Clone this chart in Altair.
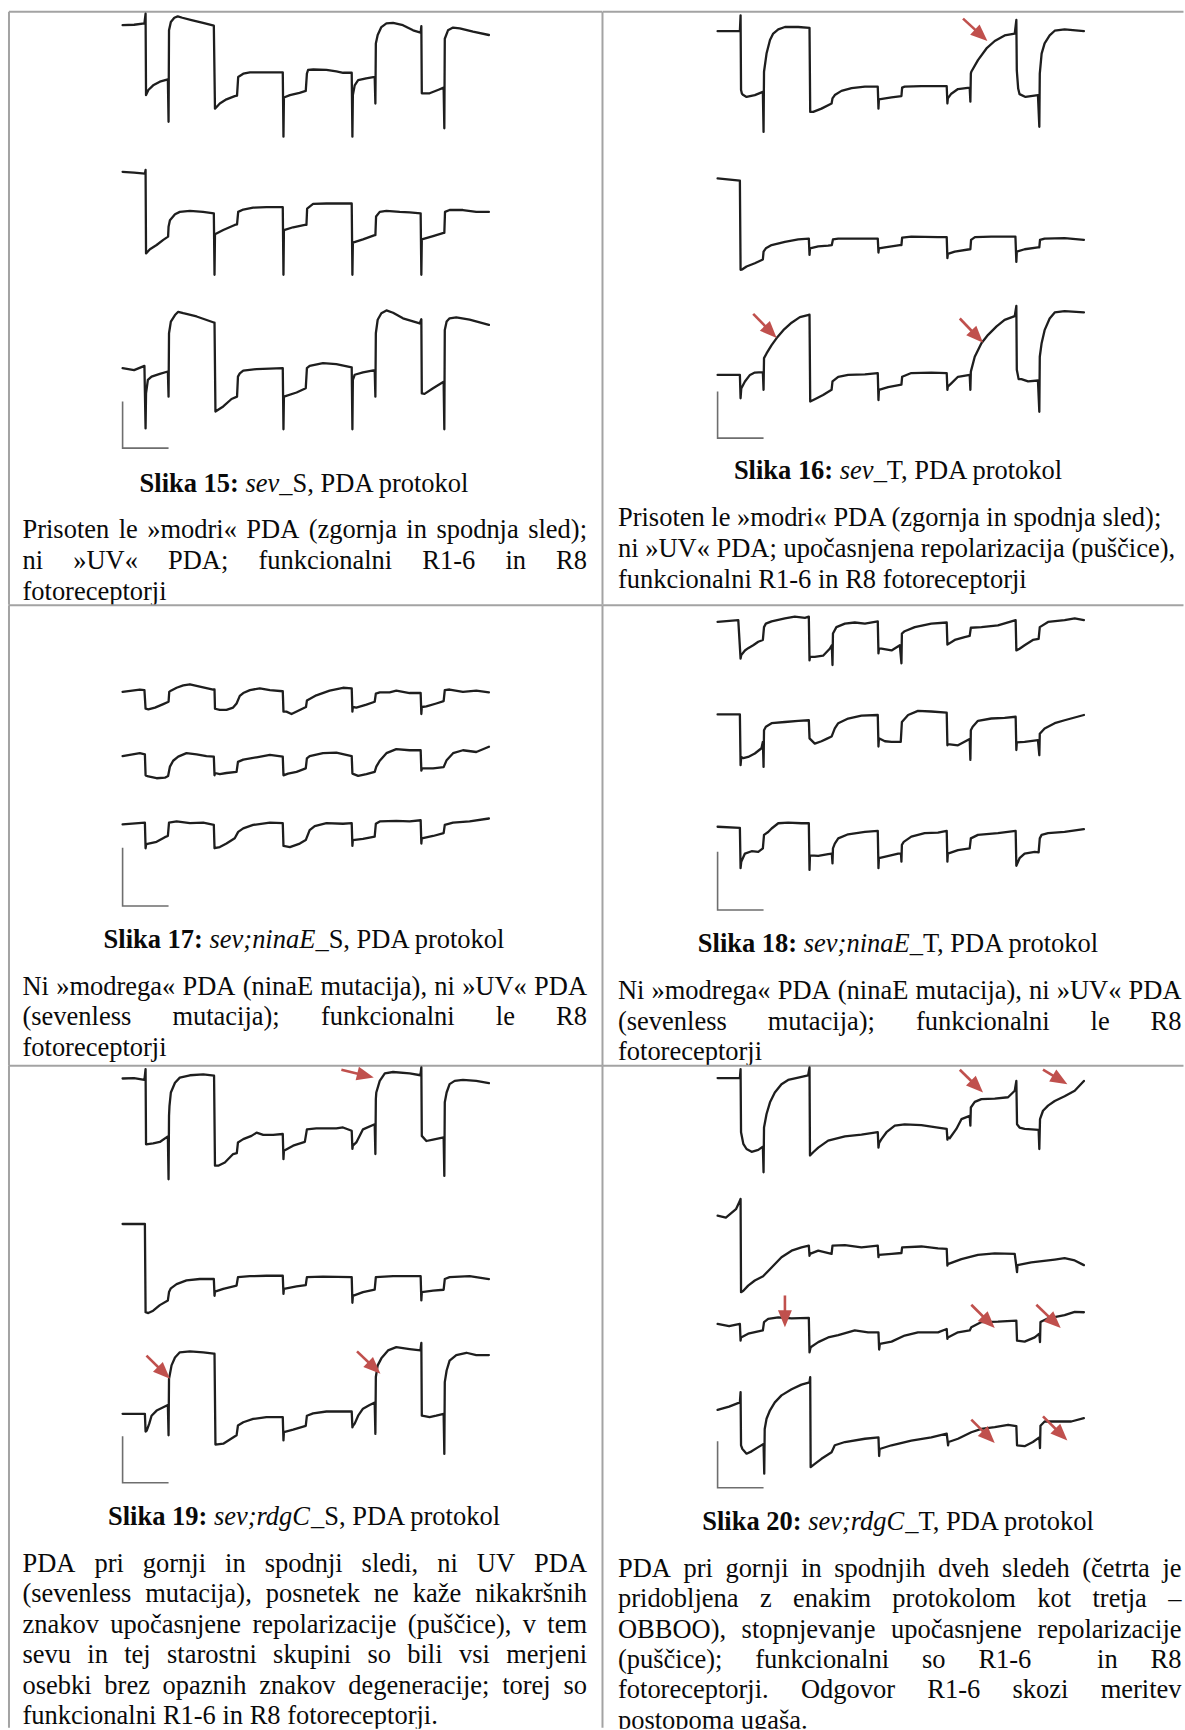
import math
import altair as alt
import pandas as pd

# ---------------------------------------------------------------------------
# Recorded traces, (time [s], potential [mV] relative to the starting level).
# PDA protocol light steps switch at t = 1, 2, 4, 5, 7, 8, 10, 11, 13, 14 s.
# ---------------------------------------------------------------------------
SEV_S_1 = [(0, 0), (0.5, 0.1), (0.95, 0.4), (1.0, 2.5), (1.02, -15.0), (1.12, -13.9), (1.33, -12.9), (1.62, -12.1),
           (1.97, -11.6), (2.0, -20.7), (2.02, -1.1), (2.1, 0.7), (2.25, 1.6), (2.4, 1.9), (2.6, 1.6), (3.0, 1.1),
           (3.5, 0.5), (3.97, -0.1), (4.02, -17.9), (4.23, -16.8), (4.52, -15.9), (4.88, -15.2), (4.98, -15.1),
           (5.03, -11.1), (5.25, -10.4), (5.54, -10.1), (6.12, -10.1), (6.97, -10.1), (7.0, -23.9), (7.02, -15.5),
           (7.28, -15.0), (7.7, -14.5), (7.97, -14.1), (8.02, -10.4), (8.07, -9.6), (8.3, -9.5), (8.87, -9.6),
           (9.3, -9.9), (9.6, -10.2), (9.97, -10.2), (10.0, -23.9), (10.02, -15.0), (10.1, -12.9), (10.25, -11.8),
           (10.6, -11.4), (10.97, -11.1), (11.0, -16.8), (11.02, -3.9), (11.1, -2.1), (11.26, -0.4), (11.48, 0.4),
           (11.77, 0.5), (12.2, 0.0), (12.64, -1.1), (12.97, -1.6), (13.0, -0.2), (13.02, -14.6), (13.36, -14.6),
           (13.72, -13.9), (13.97, -13.4), (14.0, -22.1), (14.02, -2.9), (14.16, -1.1), (14.38, -0.5), (14.67, -0.7),
           (15.25, -1.4), (15.94, -2.1)]
SEV_S_2 = [(0, 0), (0.5, -0.2), (0.97, -0.4), (1.0, 0.4), (1.02, -17.5), (1.19, -16.6), (1.48, -15.7), (1.77, -14.6),
           (1.98, -13.9), (2.0, -11.8), (2.06, -10.4), (2.28, -9.1), (2.49, -8.6), (2.93, -8.4), (3.5, -8.6),
           (3.97, -8.9), (4.0, -22.1), (4.02, -13.4), (4.38, -12.5), (4.88, -11.4), (4.98, -11.3), (5.03, -8.6),
           (5.25, -8.1), (5.68, -7.7), (6.26, -7.6), (6.97, -7.6), (7.0, -22.1), (7.02, -12.5), (7.42, -11.9),
           (7.93, -11.4), (8.0, -11.4), (8.03, -7.9), (8.29, -6.9), (8.87, -6.8), (9.59, -6.8), (9.97, -6.8),
           (10.0, -22.1), (10.02, -15.2), (10.46, -14.5), (10.97, -13.6), (11.0, -13.6), (11.03, -9.6), (11.19, -8.6),
           (11.48, -8.4), (12.06, -8.6), (12.49, -8.7), (12.97, -8.9), (13.0, -22.1), (13.02, -14.5), (13.51, -13.8),
           (13.97, -13.1), (14.0, -13.1), (14.03, -8.6), (14.23, -8.2), (14.81, -8.2), (15.39, -8.6), (15.94, -8.6)]
SEV_S_3 = [(0, 0), (0.5, -0.4), (0.95, 0.5), (1.0, -12.9), (1.02, -5.4), (1.1, -2.5), (1.26, -1.8), (1.62, -1.2),
           (1.97, -0.7), (2.0, -6.1), (2.02, 7.5), (2.1, 10.0), (2.28, 11.4), (2.42, 12.1), (2.64, 11.8), (3.22, 11.1),
           (3.97, 9.8), (4.0, 9.8), (4.04, -9.3), (4.38, -8.2), (4.74, -6.6), (4.98, -6.1), (5.02, -1.8), (5.1, -1.1),
           (5.25, -0.5), (5.83, -0.2), (6.97, 0.0), (7.0, -13.1), (7.02, -6.1), (7.57, -5.2), (7.97, -4.3), (8.02, 0.0),
           (8.14, 0.5), (8.72, 1.1), (9.3, 0.9), (9.97, 0.2), (10.0, -13.1), (10.02, -2.5), (10.1, -1.4), (10.46, -0.9),
           (10.97, -0.4), (11.0, -6.1), (11.02, 7.5), (11.1, 10.4), (11.26, 11.8), (11.48, 12.4), (11.77, 11.9),
           (12.2, 10.7), (12.93, 9.6), (13.0, 10.5), (13.02, -5.4), (13.14, -5.5), (13.51, -4.3), (13.97, -2.9),
           (14.0, -13.1), (14.02, 8.2), (14.1, 10.0), (14.23, 10.7), (14.52, 10.9), (15.1, 10.4), (15.94, 9.3)]

SEV_T_1 = [(0, 0), (0.97, 0.0), (1.0, 3.4), (1.02, -12.6), (1.06, -13.4), (1.12, -13.7), (1.26, -14.1), (1.62, -13.7),
           (1.97, -13.0), (2.0, -21.6), (2.02, -8.7), (2.13, -4.8), (2.28, -1.9), (2.42, -0.5), (2.64, 0.4), (2.93, 0.9),
           (3.51, 0.9), (4.0, 0.7), (4.03, -17.3), (4.16, -17.3), (4.52, -16.6), (4.96, -15.5), (5.0, -14.4),
           (5.1, -13.7), (5.39, -12.8), (5.83, -12.2), (6.41, -11.9), (6.97, -11.9), (7.0, -16.6), (7.02, -14.6),
           (7.57, -14.2), (8.0, -13.9), (8.03, -12.1), (8.14, -11.9), (8.87, -11.8), (9.59, -11.8), (9.97, -11.8),
           (10.0, -15.5), (10.02, -14.4), (10.17, -13.4), (10.46, -12.4), (10.97, -12.1), (11.0, -15.1), (11.02, -9.1),
           (11.04, -8.7), (11.33, -6.2), (11.7, -3.7), (12.06, -2.1), (12.49, -0.9), (12.93, -0.5), (13.0, 2.4),
           (13.02, -8.4), (13.08, -12.3), (13.14, -13.5), (13.4, -14.1), (13.94, -13.7), (14.0, -20.5), (14.02, -9.1),
           (14.1, -4.8), (14.23, -2.6), (14.45, -0.9), (14.67, 0.1), (15.1, 0.4), (15.94, 0.0)]
SEV_T_2 = [(0, 0), (0.97, -0.5), (1.0, -19.6), (1.08, -19.5), (1.26, -18.9), (1.62, -18.2), (1.97, -17.4), (2.0, -15.7),
           (2.1, -15.0), (2.35, -14.3), (2.93, -13.6), (3.51, -13.1), (3.97, -12.9), (4.0, -16.4), (4.02, -15.0),
           (4.38, -14.6), (4.81, -14.4), (4.97, -14.3), (5.02, -13.1), (5.25, -12.9), (6.12, -12.9), (6.97, -12.9),
           (7.0, -15.9), (7.02, -15.0), (7.28, -14.8), (7.93, -14.3), (8.0, -14.3), (8.03, -12.7), (8.43, -12.5),
           (9.59, -12.6), (9.97, -12.6), (10.0, -17.1), (10.02, -16.2), (10.32, -15.7), (10.97, -15.2), (11.0, -15.2),
           (11.03, -13.2), (11.2, -12.6), (11.91, -12.5), (12.96, -12.5), (13.0, -17.9), (13.02, -15.7), (13.36, -15.2),
           (13.94, -14.8), (14.0, -14.8), (14.03, -13.2), (14.23, -12.9), (15.1, -12.8), (15.94, -13.2)]
SEV_T_3 = [(0, 0), (0.97, 0.0), (1.0, -5.0), (1.03, -2.9), (1.19, -1.4), (1.41, 0.0), (1.62, 0.5), (1.97, 0.6),
           (2.0, -3.2), (2.02, 3.6), (2.13, 4.6), (2.35, 6.4), (2.57, 7.9), (2.86, 9.6), (3.22, 11.2), (3.58, 12.4),
           (3.97, 12.9), (4.0, 12.9), (4.03, -5.7), (4.23, -5.2), (4.59, -4.3), (4.96, -3.2), (5.0, -1.4), (5.25, -0.4),
           (5.68, 0.0), (6.41, 0.1), (6.97, 0.4), (7.0, -5.4), (7.02, -3.2), (7.42, -2.6), (8.0, -2.1), (8.03, -0.4),
           (8.43, 0.4), (9.3, 0.5), (9.97, 0.4), (10.0, -3.2), (10.02, -2.5), (10.17, -1.8), (10.46, -0.4),
           (10.97, 0.0), (11.0, -3.2), (11.02, 0.7), (11.19, 3.9), (11.48, 6.8), (11.77, 8.6), (12.14, 10.4),
           (12.49, 11.8), (12.93, 12.6), (13.0, 14.8), (13.02, 1.1), (13.1, -0.9), (13.22, -0.9), (13.51, -1.4),
           (13.94, -1.2), (14.0, -7.9), (14.02, 3.9), (14.1, 6.8), (14.23, 9.6), (14.45, 12.1), (14.67, 13.4),
           (15.1, 13.7), (15.94, 13.4)]

NINAE_S_1 = [(0, 0), (0.75, 0.4), (0.95, 0.3), (1.0, -2.9), (1.12, -3.0), (1.41, -2.7), (1.77, -2.1), (2.0, -1.7),
             (2.03, 0.0), (2.1, 0.2), (2.35, 0.7), (2.64, 1.1), (2.93, 1.3), (3.36, 0.9), (3.94, 0.4), (4.0, 0.4),
             (4.02, -2.9), (4.23, -3.1), (4.52, -3.1), (4.81, -2.7), (4.96, -2.0), (5.1, -0.7), (5.25, -0.2),
             (5.54, 0.3), (5.97, 0.6), (6.41, 0.3), (6.97, 0.1), (7.0, -3.4), (7.13, -3.4), (7.35, -3.8), (7.71, -3.1),
             (7.98, -2.6), (8.02, -1.5), (8.43, -0.6), (9.01, 0.2), (9.59, 0.7), (9.97, 0.6), (10.0, -3.4),
             (10.02, -2.6), (10.17, -2.7), (10.61, -2.2), (10.97, -1.7), (11.02, -0.3), (11.19, -0.1), (11.62, -0.1),
             (11.91, 0.2), (12.49, -0.2), (12.97, -0.2), (13.0, -3.8), (13.02, -2.6), (13.22, -2.5), (13.65, -2.0),
             (13.97, -1.6), (14.02, 0.3), (14.23, 0.4), (14.81, 0.0), (15.39, 0.2), (15.94, -0.1)]
NINAE_S_2 = [(0, 0), (0.75, 0.5), (0.97, 0.3), (1.0, -3.3), (1.12, -3.5), (1.48, -3.8), (1.84, -3.7), (1.98, -3.4),
             (2.06, -1.8), (2.2, -0.8), (2.42, -0.1), (2.78, 0.5), (3.22, 0.3), (3.65, 0.0), (3.97, -0.1), (4.0, -3.3),
             (4.02, -2.9), (4.23, -3.1), (4.52, -2.9), (4.96, -2.7), (5.02, -1.0), (5.25, -0.6), (5.83, -0.2),
             (6.41, 0.2), (6.97, -0.1), (7.0, -3.3), (7.2, -3.0), (7.57, -2.7), (7.97, -2.1), (8.02, -0.4), (8.14, 0.0),
             (8.72, 0.5), (9.3, 0.6), (9.97, 0.0), (10.0, -3.0), (10.25, -3.4), (10.61, -3.1), (10.97, -2.7),
             (11.04, -1.8), (11.19, -0.8), (11.48, 0.5), (11.91, 1.2), (12.49, 1.0), (12.97, 1.0), (13.0, -2.5),
             (13.03, -2.1), (13.51, -2.1), (13.97, -1.9), (14.1, -0.7), (14.38, 0.5), (14.81, 1.0), (15.39, 0.7),
             (15.94, 1.6)]
NINAE_S_3 = [(0, 0), (0.97, 0.3), (1.0, -4.1), (1.03, -3.4), (1.48, -3.0), (1.84, -2.2), (1.97, -2.0), (2.02, 0.3),
             (2.35, 0.5), (2.93, 0.2), (3.51, 0.3), (3.97, -0.1), (4.0, -4.1), (4.23, -3.9), (4.52, -3.3),
             (4.88, -2.4), (5.03, -1.3), (5.25, -0.7), (5.68, -0.1), (6.41, 0.3), (6.97, 0.2), (7.0, -3.7),
             (7.28, -3.9), (7.71, -3.3), (7.97, -2.7), (8.14, -1.0), (8.36, -0.3), (8.87, 0.2), (9.59, 0.1),
             (9.97, 0.2), (10.0, -3.7), (10.02, -2.7), (10.46, -2.5), (10.97, -2.1), (11.02, 0.1), (11.19, 0.5),
             (11.91, 0.6), (12.49, 0.5), (12.97, 0.7), (13.0, -3.3), (13.02, -2.4), (13.51, -2.0), (13.97, -1.5),
             (14.02, -0.1), (14.38, 0.3), (15.1, 0.5), (15.94, 1.0)]

NINAE_T_1 = [(0, 0), (0.9, 0.3), (1.0, -6.3), (1.03, -5.7), (1.19, -4.9), (1.33, -4.5), (1.55, -4.0), (1.77, -3.4),
             (1.97, -3.1), (2.02, -0.9), (2.1, -0.3), (2.35, 0.1), (2.93, 0.6), (3.36, 0.9), (3.8, 0.7), (3.97, 0.9),
             (4.0, -6.6), (4.02, -6.0), (4.23, -6.0), (4.59, -5.8), (4.88, -4.6), (4.97, -4.0), (5.0, -7.4),
             (5.02, -2.0), (5.17, -0.9), (5.54, -0.3), (5.97, -0.1), (6.41, -0.3), (6.97, 0.1), (7.0, -5.4),
             (7.02, -4.6), (7.13, -4.6), (7.57, -4.9), (7.93, -4.0), (8.0, -7.1), (8.02, -2.0), (8.14, -1.6),
             (8.58, -0.9), (9.3, -0.3), (9.97, -0.1), (10.0, -3.9), (10.32, -3.1), (10.75, -2.6), (10.97, -2.4),
             (11.02, -1.0), (11.48, -0.9), (12.2, -0.6), (12.97, 0.3), (13.0, -4.9), (13.14, -4.6), (13.36, -4.0),
             (13.72, -3.1), (13.97, -2.9), (14.02, -0.9), (14.38, 0.0), (15.1, 0.3), (15.54, 0.6), (15.94, 0.3)]
NINAE_T_2 = [(0, 0), (0.97, 0.0), (1.0, -8.7), (1.03, -7.3), (1.12, -7.5), (1.33, -7.3), (1.62, -6.7), (1.91, -5.8),
             (1.97, -4.7), (2.0, -9.0), (2.02, -2.7), (2.1, -2.1), (2.35, -1.5), (2.93, -1.3), (3.51, -1.1),
             (3.97, -1.0), (4.0, -4.1), (4.23, -5.0), (4.52, -4.6), (4.74, -4.2), (4.96, -3.8), (5.1, -2.4),
             (5.25, -1.5), (5.68, -0.7), (6.26, -0.2), (6.97, -0.1), (7.0, -5.5), (7.02, -4.1), (7.28, -4.6),
             (7.57, -4.7), (7.97, -4.7), (8.02, -1.3), (8.29, -0.1), (8.72, 0.6), (9.3, 0.5), (9.97, 0.3),
             (10.0, -5.3), (10.02, -5.1), (10.46, -5.3), (10.97, -4.2), (11.0, -7.8), (11.02, -2.7), (11.1, -2.1),
             (11.33, -1.1), (11.91, -0.7), (12.49, -0.6), (12.97, -0.4), (13.0, -6.1), (13.02, -4.8), (13.36, -4.7),
             (13.94, -4.4), (14.0, -7.0), (14.02, -3.3), (14.23, -2.4), (14.67, -1.5), (15.1, -1.0), (15.94, -0.1)]
NINAE_T_3 = [(0, 0), (0.97, -0.2), (1.0, -7.1), (1.03, -6.0), (1.19, -4.6), (1.48, -4.2), (1.77, -4.3), (1.97, -3.7),
             (2.02, -1.4), (2.2, -0.9), (2.35, -0.3), (2.64, 0.6), (3.07, 0.7), (3.65, 0.6), (3.97, 0.6), (4.0, -7.4),
             (4.02, -4.9), (4.38, -5.0), (4.81, -4.7), (4.97, -4.6), (5.0, -6.3), (5.02, -3.7), (5.1, -2.9),
             (5.25, -2.0), (5.68, -1.3), (6.41, -0.9), (6.97, -0.7), (7.0, -7.1), (7.02, -5.4), (7.35, -5.1),
             (7.86, -4.6), (7.98, -4.6), (8.0, -6.0), (8.02, -3.1), (8.1, -2.6), (8.43, -1.7), (9.01, -1.1),
             (9.59, -1.0), (9.97, -0.7), (10.0, -6.0), (10.02, -4.6), (10.46, -4.0), (10.97, -3.7), (11.02, -2.0),
             (11.33, -1.4), (12.2, -1.1), (12.97, -0.7), (13.0, -6.7), (13.14, -5.4), (13.36, -4.6), (13.8, -4.3),
             (13.97, -4.4), (14.02, -2.0), (14.1, -1.4), (14.38, -1.1), (15.1, -0.9), (15.94, -0.4)]

RDGC_S_1 = [(0, 0), (0.5, 0.1), (0.95, -0.3), (1.0, 2.0), (1.02, -14.1), (1.33, -13.9), (1.62, -13.6), (1.97, -12.4),
            (2.0, -21.6), (2.02, -8.0), (2.04, -5.9), (2.1, -3.0), (2.28, -0.9), (2.49, 0.2), (2.93, 0.7), (3.51, 0.9),
            (3.98, 0.6), (4.02, -18.7), (4.16, -18.7), (4.45, -18.0), (4.81, -16.2), (4.97, -16.0), (5.02, -13.7),
            (5.25, -13.0), (5.61, -12.3), (5.83, -11.6), (6.12, -12.1), (6.55, -12.1), (6.97, -11.9), (7.0, -17.3),
            (7.02, -15.5), (7.42, -14.4), (7.93, -13.6), (8.02, -10.9), (8.43, -10.7), (9.3, -10.7), (9.59, -10.5),
            (9.97, -11.2), (10.0, -15.1), (10.02, -14.4), (10.17, -13.7), (10.46, -10.9), (10.97, -9.8),
            (11.0, -16.2), (11.02, -4.4), (11.04, -3.0), (11.19, -0.5), (11.41, 1.1), (11.77, 1.4), (12.49, 1.1),
            (12.96, 0.7), (13.0, 2.4), (13.02, -12.3), (13.22, -13.4), (13.51, -13.1), (13.97, -12.6), (14.0, -20.9),
            (14.02, -5.1), (14.1, -3.0), (14.23, -1.2), (14.45, -0.5), (14.81, -0.3), (15.39, -0.5), (15.94, -1.0)]
RDGC_S_2 = [(0, 0), (0.97, 0.0), (1.0, -18.9), (1.12, -19.1), (1.33, -18.6), (1.62, -17.4), (1.97, -16.4),
            (2.02, -14.6), (2.1, -13.8), (2.35, -12.9), (2.78, -12.1), (3.36, -11.8), (3.97, -11.8), (4.0, -15.4),
            (4.02, -14.5), (4.38, -13.9), (4.96, -13.2), (5.02, -11.4), (5.54, -11.2), (6.26, -11.1), (6.97, -11.1),
            (7.0, -15.0), (7.02, -13.9), (7.57, -13.4), (7.97, -13.1), (8.02, -11.4), (8.72, -11.3), (9.97, -11.4),
            (10.0, -16.9), (10.02, -15.4), (10.46, -14.6), (10.97, -14.1), (11.02, -11.4), (11.77, -11.2),
            (12.97, -11.2), (13.0, -16.4), (13.02, -14.6), (13.51, -14.3), (13.97, -14.1), (14.02, -11.8),
            (14.23, -11.4), (15.1, -11.2), (15.94, -11.8)]
RDGC_S_3 = [(0, 0), (0.97, 0.0), (1.0, -3.8), (1.05, -3.6), (1.16, -2.1), (1.26, -0.4), (1.48, 0.7), (1.77, 1.4),
            (1.97, 1.9), (2.0, -4.6), (2.02, 7.5), (2.13, 10.4), (2.28, 12.1), (2.49, 13.2), (2.93, 13.4), (3.51, 13.2),
            (3.97, 12.9), (4.0, 12.9), (4.04, -6.6), (4.38, -6.4), (4.67, -5.5), (4.96, -4.6), (5.02, -2.5),
            (5.25, -1.8), (5.68, -1.1), (6.26, -0.7), (6.97, -0.7), (7.0, -5.7), (7.02, -3.9), (7.42, -3.4),
            (7.97, -2.6), (8.02, -0.4), (8.29, 0.1), (8.87, 0.5), (9.97, 0.5), (10.0, -2.9), (10.02, -2.6),
            (10.1, -2.1), (10.25, -0.4), (10.46, 1.1), (10.75, 1.9), (10.97, 2.4), (11.0, -4.3), (11.02, 7.9),
            (11.1, 10.4), (11.26, 11.9), (11.55, 13.6), (11.91, 14.3), (12.49, 13.9), (12.96, 13.6), (13.0, 15.2),
            (13.02, -0.4), (13.14, -0.5), (13.36, -0.7), (13.65, -0.4), (13.97, 0.0), (14.0, -8.6), (14.02, 6.8),
            (14.1, 9.3), (14.23, 11.4), (14.52, 12.6), (14.96, 13.1), (15.39, 12.6), (15.94, 12.6)]

RDGC_T_1 = [(0, 0), (0.97, 0.0), (1.0, 1.9), (1.02, -11.6), (1.12, -14.1), (1.26, -15.2), (1.48, -15.8), (1.77, -15.4),
            (1.97, -14.7), (2.0, -20.2), (2.02, -10.6), (2.13, -7.7), (2.28, -5.2), (2.49, -3.1), (2.78, -1.3),
            (3.07, -0.4), (3.51, 0.1), (3.94, 0.6), (4.0, 2.3), (4.02, -16.6), (4.16, -15.9), (4.38, -14.9),
            (4.81, -13.4), (5.54, -12.5), (6.26, -12.1), (6.97, -11.6), (7.0, -14.9), (7.03, -13.9), (7.13, -13.1),
            (7.35, -11.6), (7.71, -10.2), (8.14, -9.9), (8.87, -10.1), (9.59, -10.6), (9.97, -10.9), (10.0, -13.2),
            (10.02, -12.7), (10.1, -12.9), (10.39, -10.9), (10.61, -8.8), (10.97, -8.1), (11.0, -10.2), (11.02, -6.3),
            (11.19, -5.1), (11.48, -4.5), (12.06, -4.4), (12.64, -4.1), (12.93, -2.7), (13.0, -0.6), (13.03, -9.9),
            (13.14, -10.6), (13.36, -10.9), (13.97, -11.1), (14.0, -15.2), (14.03, -8.8), (14.16, -7.0),
            (14.38, -5.9), (14.67, -4.9), (15.1, -3.9), (15.54, -2.7), (15.94, -0.6)]
RDGC_T_2 = [(0, 0), (0.36, -0.4), (0.8, 1.4), (0.97, 3.2), (1.0, 3.6), (1.02, -16.4), (1.12, -16.1), (1.33, -15.0),
            (1.62, -13.9), (1.98, -13.0), (2.35, -11.1), (2.78, -8.9), (3.22, -7.5), (3.65, -6.8), (3.97, -6.4),
            (4.0, -8.6), (4.02, -8.2), (4.38, -7.5), (4.96, -8.2), (5.0, -6.4), (5.54, -6.3), (6.26, -6.8),
            (6.97, -6.4), (7.0, -8.9), (7.02, -8.4), (7.57, -8.2), (8.0, -8.0), (8.03, -6.8), (8.87, -6.6),
            (9.59, -7.0), (9.97, -7.1), (10.0, -10.7), (10.02, -10.4), (10.61, -9.3), (11.33, -8.4), (12.06, -8.1),
            (12.93, -8.2), (13.03, -12.1), (13.05, -10.6), (13.65, -10.0), (14.67, -9.4), (15.1, -9.1),
            (15.54, -9.6), (15.94, -10.6)]
RDGC_T_3 = [(0, 0), (0.5, -0.5), (0.97, 0.0), (1.0, -3.6), (1.02, -2.9), (1.33, -2.1), (1.77, -1.6), (1.97, -1.4),
            (2.02, 0.4), (2.2, 1.1), (2.64, 1.4), (3.22, 1.2), (3.97, 1.3), (4.0, -6.1), (4.05, -5.0), (4.38, -3.9),
            (4.81, -2.9), (5.25, -2.4), (5.97, -1.4), (6.55, -1.8), (7.0, -1.8), (7.03, -5.5), (7.06, -4.3),
            (7.57, -3.8), (8.14, -2.5), (8.72, -1.8), (9.59, -1.8), (9.97, -1.1), (10.0, -3.2), (10.02, -2.9),
            (10.46, -1.8), (10.97, -1.4), (11.04, -0.7), (11.48, 0.4), (12.2, 0.5), (13.0, 0.7), (13.03, -3.6),
            (13.36, -3.8), (13.8, -2.9), (14.0, -2.1), (14.03, -3.9), (14.05, 0.4), (14.38, 1.2), (15.1, 1.9),
            (15.54, 2.6), (15.94, 2.5)]
RDGC_T_4 = [(0, 0), (0.5, 0.7), (0.97, 1.6), (1.0, 3.8), (1.02, -7.6), (1.08, -8.4), (1.26, -9.4), (1.48, -8.9),
            (1.77, -8.0), (2.0, -7.3), (2.03, -13.7), (2.05, -4.1), (2.13, -1.9), (2.28, -0.1), (2.49, 1.6),
            (2.78, 3.1), (3.22, 4.4), (3.65, 5.4), (4.0, 5.9), (4.03, 7.0), (4.05, -12.3), (4.23, -11.6),
            (4.52, -10.5), (4.96, -9.1), (5.1, -7.6), (5.54, -6.9), (6.41, -6.2), (7.0, -5.9), (7.03, -9.9),
            (7.05, -8.4), (7.57, -7.6), (8.43, -6.6), (9.3, -5.9), (9.97, -5.1), (10.03, -7.6), (10.05, -6.9),
            (10.46, -6.2), (11.04, -4.8), (11.48, -4.1), (12.06, -3.7), (12.64, -3.2), (13.0, -3.5), (13.03, -7.6),
            (13.36, -7.8), (13.72, -6.9), (14.0, -5.9), (14.03, -8.2), (14.05, -3.4), (14.23, -2.5), (14.81, -2.5),
            (15.39, -2.5), (15.94, -1.8)]

# Calibration bar: 2 s by 10 mV
SCALE_BAR = [(0, 10), (0, 0), (2, 0)]

# Arrows marking slowed repolarisation: (trace index, t tail, V tail, t tip, V tip)
ARROWS_SEV_T = [(0, 10.68, 2.7, 11.74, -2.1), (2, 1.55, 13.1, 2.57, 7.9), (2, 10.54, 12.1, 11.55, 6.9)]
ARROWS_RDGC_S = [(0, 9.52, 1.9, 10.93, 0.2), (2, 1.04, 12.5, 2.06, 7.5), (2, 10.2, 13.4, 11.22, 8.6)]
ARROWS_RDGC_T = [(0, 10.54, 1.8, 11.55, -3.1), (0, 14.16, 1.8, 15.22, -1.3), (2, 2.93, 6.1, 2.93, -0.7),
                 (2, 11.04, 4.1, 12.06, -0.9), (2, 13.87, 4.1, 14.93, -0.9), (3, 11.04, -2.1, 12.06, -7.1),
                 (3, 14.16, -1.4, 15.22, -6.6)]

# Figure captions: (bold part, italic part, roman part)
CAPTIONS = [
    ("Slika 15: ", "sev", "_S, PDA protokol"),
    ("Slika 16: ", "sev", "_T, PDA protokol"),
    ("Slika 17: ", "sev;ninaE", "_S, PDA protokol"),
    ("Slika 18: ", "sev;ninaE", "_T, PDA protokol"),
    ("Slika 19: ", "sev;rdgC", "_S, PDA protokol"),
    ("Slika 20: ", "sev;rdgC", "_T, PDA protokol"),
]

# Descriptions, one entry per printed line
DESC_15 = ["Prisoten le »modri« PDA (zgornja in spodnja sled);",
           "ni »UV« PDA; funkcionalni R1-6 in R8",
           "fotoreceptorji"]
DESC_16 = ["Prisoten le »modri« PDA (zgornja in spodnja sled);",
           "ni »UV« PDA; upočasnjena repolarizacija (puščice),",
           "funkcionalni R1-6 in R8 fotoreceptorji"]
DESC_17 = ["Ni »modrega« PDA (ninaE mutacija), ni »UV« PDA",
           "(sevenless mutacija); funkcionalni le R8",
           "fotoreceptorji"]
DESC_18 = list(DESC_17)
DESC_19 = ["PDA pri gornji in spodnji sledi, ni UV PDA",
           "(sevenless mutacija), posnetek ne kaže nikakršnih",
           "znakov upočasnjene repolarizacije (puščice), v tem",
           "sevu in tej starostni skupini so bili vsi merjeni",
           "osebki brez opaznih znakov degeneracije; torej so",
           "funkcionalni R1-6 in R8 fotoreceptorji."]
DESC_20 = ["PDA pri gornji in spodnjih dveh sledeh (četrta je",
           "pridobljena z enakim protokolom kot tretja –",
           "OBBOO), stopnjevanje upočasnjene repolarizacije",
           "(puščice); funkcionalni so R1-6  in R8",
           "fotoreceptorji. Odgovor R1-6 skozi meritev",
           "postopoma ugaša."]

# ---------------------------------------------------------------------------
# Styling and layout
# ---------------------------------------------------------------------------
FONT = "Liberation Serif"
FS = 26.5
INK = "#1e1e1e"
TEXT = "#0a0a0a"
RED = "#c0504d"
GRID = "#a3a3a3"
BAR = "#6e6e6e"
PX_PER_S = 23.0

COL_W = [593.5, 582.5]
ROW_H = [593.5, 461.0, 663.5]
T0_X = [113.7, 115.2]
TEXT_L = [13.5, 15.5]
TEXT_R = [578.5, 579.5]

# Times-compatible advance widths (1/1000 em) used for justification
ROMAN = dict(zip(" !\"#$%&'()*+,-./0123456789:;<=>?@",
                 [250, 333, 408, 500, 500, 833, 778, 180, 333, 333, 500, 564, 250, 333, 250, 278] + [500] * 10 +
                 [278, 278, 564, 564, 564, 444, 921]))
ROMAN.update(dict(zip("ABCDEFGHIJKLMNOPQRSTUVWXYZ",
                      [722, 667, 667, 722, 611, 556, 722, 722, 333, 389, 722, 611, 889, 722, 722, 556, 722, 667, 556,
                       611, 722, 722, 944, 722, 722, 611])))
ROMAN.update(dict(zip("abcdefghijklmnopqrstuvwxyz",
                      [444, 500, 444, 500, 444, 333, 500, 500, 278, 278, 500, 278, 778, 500, 500, 500, 500, 333, 389,
                       278, 500, 500, 722, 500, 500, 444])))
ROMAN.update({"«": 500, "»": 500, "–": 500, "č": 444, "š": 389, "ž": 444, "_": 500})
BOLD = {"S": 556, "l": 278, "i": 278, "k": 556, "a": 500, " ": 250, ":": 333}
BOLD.update({d: 500 for d in "0123456789"})
ITALIC = {"s": 389, "e": 444, "v": 444, ";": 333, "n": 500, "i": 278, "a": 500, "E": 611, "r": 389, "d": 500,
          "g": 500, "C": 667}


def text_width(s, table):
    return sum(table.get(ch, 500) for ch in s) * FS / 1000.0


def paragraph(lines, col, y0, lead, justify):
    left, right = TEXT_L[col], TEXT_R[col]
    lrows, rrows = [], []
    for k, line in enumerate(lines):
        y = y0 + k * lead
        tokens = line.split(" ")
        if not justify or k == len(lines) - 1 or len(tokens) == 1:
            lrows.append({"txt": line, "x": left, "y": y})
            continue
        widths = [text_width(w, ROMAN) for w in tokens]
        gap = (right - left - sum(widths)) / (len(tokens) - 1)
        x = left
        for j, (w, wd) in enumerate(zip(tokens, widths)):
            if w:
                if j == len(tokens) - 1:
                    rrows.append({"txt": w, "x": right, "y": y})
                else:
                    lrows.append({"txt": w, "x": x, "y": y})
            x += wd + gap
    return lrows, rrows


def text_layer(rows, clip, **style):
    return alt.Chart(pd.DataFrame(rows)).mark_text(
        font=FONT, fontSize=FS, baseline="alphabetic", color=TEXT, clip=clip, **style
    ).encode(
        x=alt.X("x:Q", scale=None, axis=None),
        y=alt.Y("y:Q", scale=None, axis=None),
        text="txt:N",
    )


def panel(col, row, gain, traces, offsets, bar_off, arrows, caption, cap_y, desc, desc_y, lead, justify):
    w, h = COL_W[col], ROW_H[row]
    xs = alt.Scale(domain=[-T0_X[col] / PX_PER_S, (w - T0_X[col]) / PX_PER_S], nice=False, zero=False)
    ys = alt.Scale(domain=[-h / gain, 0], nice=False, zero=False)

    # grid lines of the table (top and left edge of this cell)
    top = alt.Chart(pd.DataFrame({"k": [0]})).mark_rule(color=GRID, strokeWidth=2).encode(
        x=alt.value(0), x2=alt.value(w - (1 if col == 1 else 0)), y=alt.value(0))
    side = alt.Chart(pd.DataFrame({"k": [0]})).mark_rule(color=GRID, strokeWidth=2).encode(
        x=alt.value(0), y=alt.value(0), y2=alt.value(h - (1 if row == 2 else 0)))

    rows = []
    for k, (tr, off) in enumerate(zip(traces, offsets)):
        for i, (t, v) in enumerate(tr):
            rows.append({"trace": k, "i": i, "t": t, "mv": v - off / gain})
    lines = alt.Chart(pd.DataFrame(rows)).mark_line(
        color=INK, strokeWidth=2.3, strokeJoin="round", strokeCap="round"
    ).encode(
        x=alt.X("t:Q", scale=xs, axis=None),
        y=alt.Y("mv:Q", scale=ys, axis=None),
        detail="trace:N",
        order="i:Q",
    )

    bar_df = pd.DataFrame([{"i": i, "t": t, "mv": v - bar_off / gain} for i, (t, v) in enumerate(SCALE_BAR)])
    bar = alt.Chart(bar_df).mark_line(color=BAR, strokeWidth=1.6).encode(
        x=alt.X("t:Q", scale=xs, axis=None),
        y=alt.Y("mv:Q", scale=ys, axis=None),
        order="i:Q",
    )

    layers = [top, side, lines, bar]

    if arrows:
        arows = []
        for k, ts, vs, tt, vt in arrows:
            off = offsets[k] / gain
            dx = (tt - ts) * PX_PER_S
            dy = -(vt - vs) * gain
            length = math.hypot(dx, dy)
            back = 9.0
            arows.append({
                "t1": ts, "v1": vs - off,
                "t2": tt - dx / length * back / PX_PER_S, "v2": vt + dy / length * back / gain - off,
                "tt": tt, "vt": vt - off,
                "ang": math.degrees(math.atan2(dx, -dy)) % 360,
            })
        adf = pd.DataFrame(arows)
        shaft = alt.Chart(adf).mark_rule(color=RED, strokeWidth=2.6).encode(
            x=alt.X("t1:Q", scale=xs, axis=None), y=alt.Y("v1:Q", scale=ys, axis=None),
            x2="t2:Q", y2="v2:Q")
        head = alt.Chart(adf).mark_point(
            shape="M0,0L0.82,2L-0.82,2Z", filled=True, size=289, color=RED, opacity=1, strokeWidth=0
        ).encode(
            x=alt.X("tt:Q", scale=xs, axis=None), y=alt.Y("vt:Q", scale=ys, axis=None),
            angle=alt.Angle("ang:Q", scale=None))
        layers += [shaft, head]

    clip = row == 2
    bold, ital, reg = caption
    wb, wi, wr = text_width(bold, BOLD), text_width(ital, ITALIC), text_width(reg, ROMAN)
    cx = (TEXT_L[col] + TEXT_R[col]) / 2
    x0 = cx - (wb + wi + wr) / 2
    layers.append(text_layer([{"txt": bold, "x": x0, "y": cap_y}], clip, align="left", fontWeight="bold"))
    layers.append(text_layer([{"txt": ital, "x": x0 + wb, "y": cap_y}], clip, align="left", fontStyle="italic"))
    left_rows, right_rows = paragraph(desc, col, desc_y, lead, justify)
    left_rows.append({"txt": reg, "x": x0 + wb + wi, "y": cap_y})
    layers.append(text_layer(left_rows, clip, align="left"))
    if right_rows:
        layers.append(text_layer(right_rows, clip, align="right"))

    return alt.layer(*layers).properties(width=w, height=h)


GAIN = 14.0 / 3.0        # px per mV
GAIN_NINAE = 17.5 / 3.0  # px per mV for the ninaE recordings

cells = [
    panel(0, 0, GAIN, [SEV_S_1, SEV_S_2, SEV_S_3], [13.5, 160.2, 356.8], 436.8, None,
          CAPTIONS[0], 480.6, DESC_15, 526.8, 31.0, True),
    panel(1, 0, GAIN, [SEV_T_1, SEV_T_2, SEV_T_3], [19.5, 166.8, 363.5], 426.8, ARROWS_SEV_T,
          CAPTIONS[1], 467.6, DESC_16, 515.2, 30.7, False),
    panel(0, 1, GAIN_NINAE, [NINAE_S_1, NINAE_S_2, NINAE_S_3], [86.7, 151.0, 219.3], 301.0, None,
          CAPTIONS[2], 343.1, DESC_17, 390.2, 30.4, True),
    panel(1, 1, GAIN_NINAE, [NINAE_T_1, NINAE_T_2, NINAE_T_3], [16.7, 109.3, 221.7], 305.0, None,
          CAPTIONS[3], 347.1, DESC_18, 394.1, 30.7, True),
    panel(0, 2, GAIN, [RDGC_S_1, RDGC_S_2, RDGC_S_3], [12.7, 158.3, 348.3], 417.3, ARROWS_RDGC_S,
          CAPTIONS[4], 459.2, DESC_19, 506.2, 30.6, True),
    panel(1, 2, GAIN, [RDGC_T_1, RDGC_T_2, RDGC_T_3, RDGC_T_4], [12.3, 150.0, 258.3, 344.3], 422.3, ARROWS_RDGC_T,
          CAPTIONS[5], 464.7, DESC_20, 511.8, 30.3, True),
]

chart = alt.concat(*cells, columns=2, spacing=0, bounds="flush", align="each").properties(
    padding={"left": 8, "top": 10, "right": 0, "bottom": 0},
    background="white",
).configure_view(strokeWidth=0)

chart.save("out.html", embed_options={"renderer": "svg", "actions": False})
